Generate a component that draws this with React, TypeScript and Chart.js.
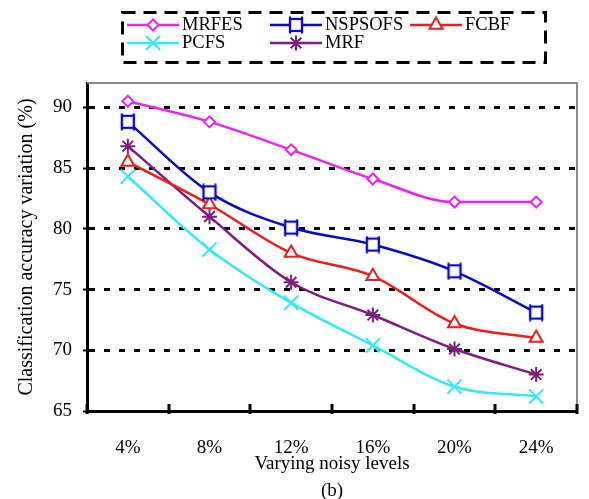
import React, { useEffect, useRef } from "react";
import { Chart, registerables } from "chart.js";
import { drawPoint } from "chart.js/helpers";

Chart.register(...registerables);

const categories = ["4%", "8%", "12%", "16%", "20%", "24%"];
const mrfes = [90.5, 88.8, 86.5, 84.1, 82.2, 82.2];
const nspsofs = [88.8, 83.0, 80.1, 78.7, 76.5, 73.1];
const fcbf = [85.5, 82.0, 78.0, 76.1, 72.2, 71.0];
const pcfs = [84.3, 78.3, 73.9, 70.4, 67.0, 66.2];
const mrf = [86.8, 81.0, 75.6, 72.9, 70.1, 68.0];
const yTickValues = [65, 70, 75, 80, 85, 90];

const FONT = '"Liberation Serif", "Times New Roman", serif';

function makeSquareMarker(color: string) {
  const c = document.createElement("canvas");
  c.width = 18;
  c.height = 18;
  const g = c.getContext("2d")!;
  g.fillStyle = "white";
  g.fillRect(3, 3, 12, 12);
  g.strokeStyle = color;
  g.lineWidth = 2.2;
  g.strokeRect(3, 3, 12, 12);
  g.beginPath();
  g.moveTo(3, 0.5);
  g.lineTo(3, 17.5);
  g.moveTo(15, 0.5);
  g.lineTo(15, 17.5);
  g.stroke();
  return c;
}

const legendPlugin = {
  id: "boxLegend",
  afterDraw(chart: any) {
    const ctx = chart.ctx as CanvasRenderingContext2D;
    ctx.save();
    ctx.strokeStyle = "black";
    ctx.lineWidth = 3;
    ctx.setLineDash([13, 8]);
    ctx.strokeRect(122.5, 12.5, 423, 50);
    ctx.setLineDash([]);
    const slots = [
      [127, 25],
      [270, 25],
      [410, 25],
      [127, 43],
      [270, 43],
    ];
    chart.data.datasets.forEach((ds: any, i: number) => {
      const [x, y] = slots[i];
      const w = 52;
      ctx.strokeStyle = ds.borderColor;
      ctx.lineWidth = ds.borderWidth;
      ctx.beginPath();
      ctx.moveTo(x, y);
      ctx.lineTo(x + w, y);
      ctx.stroke();
      ctx.fillStyle = "white";
      ctx.lineWidth = ds.pointBorderWidth;
      drawPoint(
        ctx,
        {
          pointStyle: ds.pointStyle,
          radius: ds.pointRadius,
          borderWidth: ds.pointBorderWidth,
          rotation: 0,
        } as any,
        x + w / 2,
        y
      );
      ctx.fillStyle = "black";
      ctx.font = `18.5px ${FONT}`;
      ctx.textBaseline = "middle";
      ctx.textAlign = "left";
      ctx.fillText(ds.label, x + w + 3, y);
    });
    ctx.restore();
  },
};

const framePlugin = {
  id: "frame",
  beforeDatasetsDraw(chart: any) {
    const ctx = chart.ctx as CanvasRenderingContext2D;
    const { left, right, top, bottom } = chart.chartArea;
    ctx.save();
    ctx.strokeStyle = "#8a8a8a";
    ctx.lineWidth = 2;
    ctx.beginPath();
    ctx.moveTo(left, top);
    ctx.lineTo(right, top);
    ctx.lineTo(right, bottom);
    ctx.stroke();
    ctx.restore();
  },
  afterDraw(chart: any) {
    const ctx = chart.ctx as CanvasRenderingContext2D;
    const xs = chart.scales.x;
    const { bottom } = chart.chartArea;
    ctx.save();
    ctx.strokeStyle = "black";
    ctx.lineWidth = 3;
    for (let i = 0; i <= categories.length; i++) {
      const px = Math.round(xs.getPixelForValue(i - 0.5));
      ctx.beginPath();
      ctx.moveTo(px, bottom - 7);
      ctx.lineTo(px, bottom + 3);
      ctx.stroke();
    }
    ctx.restore();
  },
};

function ds(label: string, data: number[], color: string, style: any, radius: number) {
  return {
    label,
    data,
    borderColor: color,
    backgroundColor: color,
    pointBorderColor: color,
    pointBackgroundColor: "white",
    pointStyle: style,
    pointRadius: radius,
    pointHoverRadius: radius,
    pointBorderWidth: 2,
    borderWidth: 2.5,
    tension: 0.4,
    cubicInterpolationMode: "monotone",
  };
}

export default function App() {
  const ref = useRef<HTMLCanvasElement>(null);
  useEffect(() => {
    document.body.style.margin = "0";
    Chart.defaults.font.family = FONT;
    const blue = "#0A0ACD";
    const chart = new Chart(ref.current!, {
      type: "line",
      data: {
        labels: categories,
        datasets: [
          ds("MRFES", mrfes, "#EE22EE", "rectRot", 5.5),
          ds("NSPSOFS", nspsofs, blue, makeSquareMarker(blue), 8),
          ds("FCBF", fcbf, "#EE1C1C", "triangle", 7.5),
          ds("PCFS", pcfs, "#33EAF0", "crossRot", 10),
          ds("MRF", mrf, "#7A1F7A", "star", 7.5),
        ] as any,
      },
      options: {
        animation: false,
        responsive: false,
        layout: { padding: { top: 83, right: 4, bottom: 0, left: 0 } },
        plugins: {
          legend: { display: false },
          tooltip: { enabled: false },
        },
        scales: {
          x: {
            offset: true,
            grid: { display: false, drawTicks: false, offset: true },
            border: { display: true, color: "black", width: 3 },
            ticks: {
              color: "black",
              font: { size: 19, family: FONT },
              padding: 26,
            },
            title: {
              display: true,
              text: ["Varying noisy levels", "(b)"],
              color: "black",
              font: { size: 19, family: FONT, lineHeight: 1.42 },
              padding: { top: 0, bottom: -5.5 },
            },
            afterFit(scale: any) {
              scale.height = 88;
            },
          },
          y: {
            min: 65,
            max: 92,
            afterBuildTicks(scale: any) {
              scale.ticks = yTickValues.map((v) => ({ value: v }));
            },
            grid: {
              color: (c: any) => (c.tick && c.tick.value === 65 ? "rgba(0,0,0,0)" : "black"),
              lineWidth: 3,
              tickColor: "black",
              tickLength: 4,
              tickWidth: 2,
              tickBorderDash: [],
            } as any,
            border: { display: true, color: "black", width: 3, dash: [6, 9] },
            ticks: {
              color: "black",
              font: { size: 19, family: FONT },
              padding: 11,
            },
            title: {
              display: true,
              text: "Classification accuracy variation (%)",
              color: "black",
              font: { size: 20, family: FONT },
              padding: { top: 15, bottom: 0 },
            },
            afterFit(scale: any) {
              scale.width = 87;
            },
          },
        },
      },
      plugins: [framePlugin, legendPlugin],
    });
    return () => chart.destroy();
  }, []);
  return (
    <div style={{ width: 589, height: 499 }}>
      <canvas ref={ref} width={589} height={499} style={{ display: "block" }} />
    </div>
  );
}
